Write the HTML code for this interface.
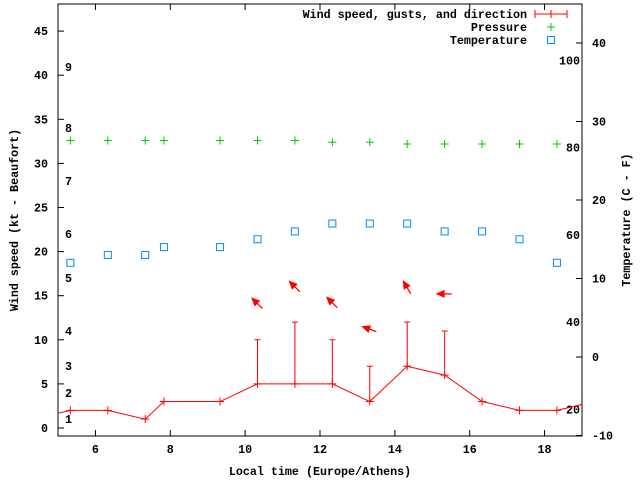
<!DOCTYPE html>
<html><head><meta charset="utf-8"><style>
body{margin:0;background:#fff}
svg text{font-family:"Liberation Mono",monospace;font-size:11.7px;font-weight:bold;fill:#000}
</style></head><body>
<svg id="c" width="640" height="480" xmlns="http://www.w3.org/2000/svg"></svg>
<script>
const times=[4.33,5.33,6.33,7.33,7.83,9.33,10.33,11.33,12.33,13.33,14.33,15.33,16.33,17.33,18.33,19.33];
const wind=[1,2,2,1,3,3,5,5,5,3,7,6,3,2,2,3];
const gustTimes=[10.33,11.33,12.33,13.33,14.33,15.33];
const gusts=[10,12,10,7,12,11];
const dirs=[315,315,315,290,330,270];
const arrowLevel=[14.1,16,14.2,11.2,15.9,15.2];
const pTimes=[5.33,6.33,7.33,7.83,9.33,10.33,11.33,12.33,13.33,14.33,15.33,16.33,17.33,18.33];
const pressure=[32.6,32.6,32.6,32.6,32.6,32.6,32.6,32.4,32.4,32.2,32.2,32.2,32.2,32.2];
const temps=[12,13,13,14,14,15,16,17,17,17,16,16,15,12];
const xTicks=[6,8,10,12,14,16,18];
const yTicks=[0,5,10,15,20,25,30,35,40,45];
const tTicks=[-10,0,10,20,30,40];
const bft=[[1,1],[2,2],[3,3],[4,4],[5,5],[6,6],[7,7],[8,8],[9,9]];
const bftY=[419,393,366,331,278,234,181,128,67];
const fLabels=[20,40,60,80,100];
const L=58,R=582,T=4,B=436;
const X=t=>L+(t-5)*(R-L)/14;
const Y=v=>428-v*8.82;
const TY=c=>357-c*7.85;
const FY=f=>TY((f-32)*5/9);
const svg=document.getElementById('c');
const NS='http://www.w3.org/2000/svg';
function mk(tag,attrs,parent){const e=document.createElementNS(NS,tag);for(const k in attrs)e.setAttribute(k,attrs[k]);(parent||svg).appendChild(e);return e;}
function txt(x,y,s,anchor){const e=mk('text',{x:x,y:y,'text-anchor':anchor||'start'});e.textContent=s;return e;}
const clip=mk('clipPath',{id:'pc'});mk('rect',{x:L,y:T,width:R-L,height:B-T},clip);
let e;
e=mk('rect',{x:L,y:T,width:R-L,height:B-T,fill:'none',stroke:'#000','stroke-width':1});

xTicks.forEach(t=>{const x=X(t);mk('line',{x1:x,y1:B,x2:x,y2:B-6,stroke:'#000'});mk('line',{x1:x,y1:T,x2:x,y2:T+6,stroke:'#000'});
 e=txt(x,453,String(t),'middle');});
yTicks.forEach(v=>{const y=Y(v);mk('line',{x1:L,y1:y,x2:L+6,y2:y,stroke:'#000'});
 e=txt(L-10,y+4,String(v),'end');});
tTicks.forEach(v=>{const y=TY(v);mk('line',{x1:R,y1:y,x2:R-6,y2:y,stroke:'#000'});
 e=txt(R+10,y+4,String(v),'start');});
bft.forEach((b,i)=>{e=txt(65,bftY[i]+4,String(b[1]),'start');});
fLabels.forEach(f=>{e=txt(580,FY(f)+4,String(f),'end');});
e=txt(320,475,'Local time (Europe/Athens)','middle');
e=txt(0,0,'Wind speed (kt - Beaufort)','middle');e.setAttribute('transform','translate(18,220) rotate(-90)');
e=txt(0,0,'Temperature (C - F)','middle');e.setAttribute('transform','translate(630,220) rotate(-90)');
const g=mk('g',{'clip-path':'url(#pc)'});
e=mk('polyline',{points:times.map((t,i)=>X(t)+','+Y(wind[i])).join(' '),fill:'none',stroke:'#f00','stroke-width':1},g);

times.forEach((t,i)=>{const x=X(t),y=Y(wind[i]);mk('path',{d:`M${x-4} ${y}h8M${x} ${y-4}v8`,stroke:'#f00'},g);});
gustTimes.forEach((t,i)=>{const x=X(t);const wi=times.indexOf(t);
 e=mk('path',{d:`M${x} ${Y(wind[wi])}V${Y(gusts[i])}M${x-3} ${Y(gusts[i])}h6`,stroke:'#f00',fill:'none'},g);
 
 const a=dirs[i]*Math.PI/180;const dx=Math.sin(a),dy=-Math.cos(a);
 const cx=x,cy=Y(arrowLevel[i]);const hx=cx+dx*7,hy=cy+dy*7,tx=cx-dx*7,ty=cy-dy*7;
 const px=-dy,py=dx;
 e=mk('g',{},g);
 mk('line',{x1:tx,y1:ty,x2:hx,y2:hy,stroke:'#f00','stroke-width':1.3},e);
 mk('polygon',{points:`${hx+dx*2},${hy+dy*2} ${hx-dx*7+px*4},${hy-dy*7+py*4} ${hx-dx*7-px*4},${hy-dy*7-py*4}`,fill:'#f00'},e);
});
pTimes.forEach((t,i)=>{const x=X(t),y=Y(pressure[i]);e=mk('path',{d:`M${x-4} ${y}h8M${x} ${y-4}v8`,stroke:'#0c0'},g);
 });
pTimes.forEach((t,i)=>{const x=X(t),y=TY(temps[i]);e=mk('rect',{x:x-3.5,y:y-3.5,width:7,height:7,fill:'none',stroke:'#08f'},g);
 });
const lg=mk('g',{});
[['Wind speed, gusts, and direction',18],['Pressure',31],['Temperature',44]].forEach(a=>{const t=mk('text',{x:527,y:a[1],'text-anchor':'end'},lg);t.textContent=a[0];});
mk('path',{d:'M535 14h32M535 10v8M567 10v8M551 10v8',stroke:'#f00'},lg);
mk('path',{d:'M547 27h8M551 23v8',stroke:'#0c0'},lg);
mk('rect',{x:547.5,y:36.5,width:7,height:7,fill:'none',stroke:'#08f'},lg);
</script>
</body></html>
